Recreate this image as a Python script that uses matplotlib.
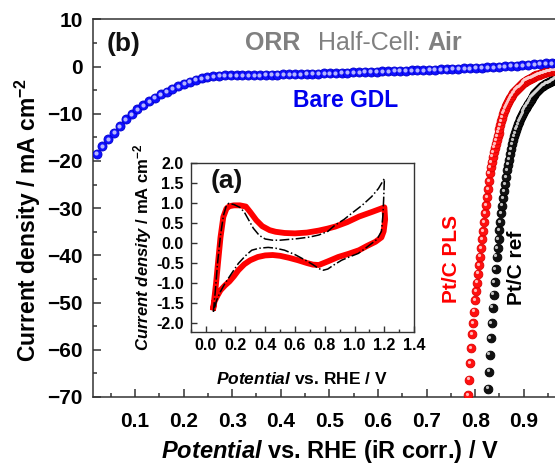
import numpy as np
import matplotlib
matplotlib.use("Agg")
import matplotlib.pyplot as plt
from matplotlib import transforms
from matplotlib.ticker import MultipleLocator, FormatStrFormatter

# ---------------- data ----------------
blue_x = [0.021, 0.033, 0.045, 0.057, 0.069, 0.081, 0.093, 0.105, 0.117, 0.129,
          0.141, 0.153, 0.165, 0.177, 0.189, 0.201, 0.213, 0.225, 0.237, 0.249,
          0.261, 0.273, 0.285, 0.297, 0.309, 0.321, 0.333, 0.345, 0.357, 0.369,
          0.381, 0.393, 0.405, 0.417, 0.429, 0.441, 0.453, 0.465, 0.477, 0.489,
          0.501, 0.513, 0.525, 0.537, 0.549, 0.561, 0.573, 0.585, 0.597, 0.609,
          0.621, 0.633, 0.645, 0.657, 0.669, 0.681, 0.693, 0.705, 0.717, 0.729,
          0.741, 0.753, 0.765, 0.777, 0.789, 0.801, 0.813, 0.825, 0.837, 0.849,
          0.861, 0.873, 0.885, 0.897, 0.909, 0.921, 0.933, 0.945, 0.957, 0.969]
blue_y = [-18.5, -16.9, -15.4, -14.0, -12.6, -11.2, -10.1, -9.1, -8.2, -7.4,
          -6.6, -5.9, -5.3, -4.7, -4.2, -3.7, -3.2, -2.8, -2.5, -2.3,
          -2.1, -1.95, -1.85, -1.8, -1.8, -1.8, -1.8, -1.8, -1.8, -1.78,
          -1.75, -1.72, -1.69, -1.66, -1.63, -1.6, -1.57, -1.53, -1.5, -1.46,
          -1.42, -1.38, -1.34, -1.3, -1.25, -1.2, -1.16, -1.12, -1.08, -1.03,
          -0.98, -0.94, -0.9, -0.86, -0.82, -0.78, -0.74, -0.7, -0.65, -0.6,
          -0.56, -0.52, -0.47, -0.42, -0.37, -0.31, -0.25, -0.18, -0.11, -0.03,
          0.05, 0.13, 0.21, 0.29, 0.37, 0.46, 0.55, 0.64, 0.73, 0.82]

pls_x = [0.786, 0.788, 0.790, 0.792, 0.794, 0.796, 0.798, 0.800, 0.802, 0.804,
         0.806, 0.808, 0.810, 0.812, 0.814, 0.816, 0.818, 0.820, 0.822, 0.824,
         0.826, 0.828, 0.830, 0.832, 0.834, 0.836, 0.838, 0.840, 0.842, 0.844,
         0.846, 0.848, 0.850, 0.852, 0.854, 0.856, 0.858, 0.860, 0.862, 0.864,
         0.866, 0.868, 0.870, 0.872, 0.874, 0.876, 0.878, 0.880, 0.882, 0.884,
         0.886, 0.888, 0.890, 0.892, 0.894, 0.896, 0.898, 0.900, 0.902, 0.904,
         0.906, 0.908, 0.910, 0.912, 0.914, 0.916, 0.918, 0.920, 0.922, 0.924,
         0.926, 0.928, 0.930, 0.932, 0.934, 0.936, 0.938, 0.940, 0.942, 0.944,
         0.946, 0.948, 0.950, 0.952, 0.954, 0.956, 0.958, 0.960, 0.962, 0.964,
         0.966, 0.968, 0.970]
pls_y = [-69.6, -66.3, -62.9, -59.6, -56.7, -54.3, -51.9, -49.5, -47.6, -45.8,
         -43.9, -42.1, -40.3, -38.5, -36.6, -34.8, -32.9, -31.1, -29.4, -27.7,
         -26.0, -24.3, -22.6, -21.3, -20.2, -19.1, -18.1, -17.2, -16.4, -15.6,
         -14.8, -14.0, -13.2, -12.4, -11.6, -10.8, -10.0, -9.4, -8.9, -8.4,
         -7.9, -7.5, -7.1, -6.7, -6.4, -6.0, -5.7, -5.4, -5.1, -4.9,
         -4.7, -4.5, -4.3, -4.1, -3.9, -3.7, -3.5, -3.3, -3.2, -3.0,
         -2.9, -2.8, -2.7, -2.6, -2.5, -2.4, -2.3, -2.2, -2.1, -2.0,
         -1.9, -1.8, -1.75, -1.7, -1.6, -1.5, -1.45, -1.4, -1.3, -1.25,
         -1.2, -1.1, -1.05, -1.0, -0.95, -0.9, -0.85, -0.8, -0.75, -0.7,
         -0.65, -0.6, -0.55]

ref_x = [0.826, 0.828, 0.830, 0.832, 0.834, 0.836, 0.838, 0.840, 0.842, 0.844,
         0.846, 0.848, 0.850, 0.852, 0.854, 0.856, 0.858, 0.860, 0.862, 0.864,
         0.866, 0.868, 0.870, 0.872, 0.874, 0.876, 0.878, 0.880, 0.882, 0.884,
         0.886, 0.888, 0.890, 0.892, 0.894, 0.896, 0.898, 0.900, 0.902, 0.904,
         0.906, 0.908, 0.910, 0.912, 0.914, 0.916, 0.918, 0.920, 0.922, 0.924,
         0.926, 0.928, 0.930, 0.932, 0.934, 0.936, 0.938, 0.940, 0.942, 0.944,
         0.946, 0.948, 0.950, 0.952, 0.954, 0.956, 0.958, 0.960, 0.962, 0.964,
         0.966, 0.968, 0.970]
ref_y = [-68.2, -64.6, -61.0, -57.6, -54.3, -51.1, -48.3, -45.6, -42.9, -40.3,
         -38.4, -36.5, -34.7, -32.9, -31.1, -29.5, -27.9, -26.4, -24.9, -23.4,
         -22.0, -20.8, -19.7, -18.6, -17.5, -16.5, -15.6, -14.8, -14.1, -13.4,
         -12.8, -12.2, -11.7, -11.2, -10.7, -10.3, -9.9, -9.5, -9.1, -8.7,
         -8.4, -8.0, -7.7, -7.3, -7.0, -6.6, -6.3, -6.0, -5.8, -5.6,
         -5.4, -5.2, -5.0, -4.8, -4.6, -4.4, -4.2, -4.05, -3.9, -3.75,
         -3.65, -3.55, -3.45, -3.35, -3.25, -3.15, -3.0, -2.85, -2.7, -2.55,
         -2.4, -2.3, -2.2]

# inset CV (a)
cv_pls_x = [0.052, 0.07, 0.085, 0.10, 0.119, 0.14, 0.16, 0.19, 0.23, 0.27,
            0.30, 0.34, 0.38, 0.43, 0.47, 0.53, 0.60, 0.68, 0.76, 0.82,
            0.87, 0.95, 1.03, 1.12, 1.20, 1.205, 1.195, 1.18, 1.14, 1.08,
            1.03, 0.96, 0.89, 0.82, 0.76, 0.72, 0.68, 0.62, 0.56, 0.50,
            0.45, 0.40, 0.35, 0.30, 0.26, 0.22, 0.19, 0.16, 0.13, 0.10,
            0.08, 0.06, 0.052]
cv_pls_y = [-1.60, -1.00, -0.42, 0.15, 0.66, 0.87, 0.93, 0.95, 0.95, 0.92,
            0.78, 0.58, 0.43, 0.33, 0.29, 0.26, 0.25, 0.27, 0.32, 0.37,
            0.42, 0.53, 0.67, 0.79, 0.90, 0.60, 0.30, 0.15, 0.04, -0.07,
            -0.17, -0.26, -0.34, -0.45, -0.54, -0.53, -0.49, -0.42, -0.36, -0.31,
            -0.29, -0.30, -0.34, -0.42, -0.52, -0.67, -0.82, -0.95, -1.05, -1.17,
            -1.30, -1.45, -1.60]
cv_ref_x = [0.052, 0.065, 0.08, 0.10, 0.12, 0.14, 0.155, 0.19, 0.23, 0.26,
            0.29, 0.32, 0.36, 0.40, 0.45, 0.50, 0.56, 0.62, 0.70, 0.76,
            0.82, 0.87, 0.93, 0.98, 1.05, 1.115, 1.16, 1.20, 1.195, 1.19,
            1.18, 1.15, 1.115, 1.07, 1.025, 0.97, 0.913, 0.86, 0.82, 0.79,
            0.76, 0.72, 0.67, 0.60, 0.53, 0.47, 0.42, 0.36, 0.31, 0.27,
            0.22, 0.18, 0.13, 0.10, 0.074, 0.052]
cv_ref_y = [-1.71, -1.20, -0.50, 0.20, 0.70, 0.95, 1.00, 0.97, 0.90, 0.78,
            0.58, 0.38, 0.20, 0.11, 0.08, 0.08, 0.10, 0.12, 0.16, 0.21,
            0.30, 0.46, 0.60, 0.75, 0.95, 1.17, 1.37, 1.62, 1.10, 0.70,
            0.30, 0.10, 0.00, -0.13, -0.25, -0.33, -0.42, -0.54, -0.64, -0.67,
            -0.63, -0.53, -0.42, -0.28, -0.17, -0.12, -0.10, -0.12, -0.17, -0.30,
            -0.50, -0.72, -1.00, -1.20, -1.42, -1.71]

main_xticks = [0.1, 0.2, 0.3, 0.4, 0.5, 0.6, 0.7, 0.8, 0.9]
main_yticks = [10, 0, -10, -20, -30, -40, -50, -60, -70]
inset_xticks = [0.0, 0.2, 0.4, 0.6, 0.8, 1.0, 1.2, 1.4]
inset_yticks = [-2.0, -1.5, -1.0, -0.5, 0.0, 0.5, 1.0, 1.5, 2.0]

# ---------------- style ----------------
plt.rcParams['font.family'] = ['Liberation Sans', 'DejaVu Sans']
plt.rcParams['font.weight'] = 'bold'
plt.rcParams['axes.labelweight'] = 'bold'
plt.rcParams['mathtext.fontset'] = 'custom'
plt.rcParams['mathtext.rm'] = 'Liberation Sans:bold'
plt.rcParams['mathtext.bf'] = 'Liberation Sans:bold'
plt.rcParams['mathtext.it'] = 'Liberation Sans:italic:bold'
plt.rcParams['mathtext.sf'] = 'Liberation Sans:bold'

SPINE = '#333333'
W, H = 555, 466
fig = plt.figure(figsize=(W / 100, H / 100), dpi=100)

ax = fig.add_axes([92.7 / W, 1 - 397 / H, 479.7 / W, 377.7 / H])
ax.set_xlim(0.013, 1.0)
ax.set_ylim(-70, 10)


def spheres(axis, xs, ys, base, edge, hi, ms, hi_ms, z, alpha_hi=0.9, dx=-1.3, dy=1.3):
    axis.plot(xs, ys, ls='none', marker='o', ms=ms, mfc=base, mec=edge, mew=0.6, zorder=z)
    tr = transforms.offset_copy(axis.transData, fig=fig, x=dx, y=dy, units='dots')
    axis.plot(xs, ys, ls='none', marker='o', ms=hi_ms, mfc=hi, mec='none',
              alpha=alpha_hi, transform=tr, zorder=z + 0.1)


spheres(ax, ref_x, ref_y, '#111111', '#000000', '#d8d8d8', 6.3, 2.3, 3)
spheres(ax, pls_x, pls_y, '#ff1010', '#dd0000', '#ffd0d0', 6.3, 2.3, 4)
spheres(ax, blue_x, blue_y, '#1010ff', '#0000cc', '#c8c8ff', 6.5, 3.0, 5, dx=-0.5, dy=0.5)

ax.xaxis.set_major_locator(plt.FixedLocator(main_xticks))
ax.xaxis.set_minor_locator(MultipleLocator(0.05))
ax.yaxis.set_major_locator(plt.FixedLocator(main_yticks))
ax.yaxis.set_minor_locator(MultipleLocator(5))
ax.xaxis.set_major_formatter(FormatStrFormatter('%.1f'))
ax.tick_params(which='both', direction='in', top=False, right=False, color=SPINE,
               labelsize=15, width=1.1)
ax.tick_params(which='major', length=5.8)
ax.tick_params(which='minor', length=3)
ax.tick_params(axis='x', pad=10.5)
ax.tick_params(axis='y', pad=7)
for lbl in ax.get_xticklabels() + ax.get_yticklabels():
    lbl.set_fontweight('bold')
for s in ax.spines.values():
    s.set_color(SPINE)
    s.set_linewidth(1.1)

ax.set_ylabel(r'Current density / mA cm$^{-2}$', fontsize=16.5, fontweight='bold')
ax.yaxis.set_label_coords(-(92.7 - 43) / 479.7, 0.47)
ax.set_xlabel(r'$\it{Potential}$ vs. RHE (iR corr.) / V', fontsize=17, fontweight='bold')
ax.xaxis.set_label_coords((330 - 92.7) / 479.7, -(438 - 397) / 377.7)

# annotations
ax.text(0.077, 4.8, '(b)', fontsize=19, fontweight='bold', ha='center', va='center', color='#111111')
GREY = '#808080'
fig.text(245 / W, 1 - 43 / H, 'ORR', fontsize=18, fontweight='bold', color=GREY, va='center', ha='left')
fig.text(318 / W, 1 - 43 / H, 'Half-Cell:', fontsize=18, fontweight='normal', color=GREY, va='center', ha='left')
fig.text(427 / W, 1 - 43 / H, 'Air', fontsize=18, fontweight='bold', color=GREY, va='center', ha='left')
ax.text(0.533, -7.1, 'Bare GDL', fontsize=16.5, fontweight='bold', color='#0000ee', ha='center', va='center')
ax.text(0.752, -40.8, 'Pt/C PLS', fontsize=15, fontweight='bold', color='#ff0000', rotation=90,
        ha='center', va='center')
ax.text(0.884, -42.7, 'Pt/C ref', fontsize=15, fontweight='bold', color='#000000', rotation=90,
        ha='center', va='center')

# ---------------- inset ----------------
axi = fig.add_axes([190.7 / W, 1 - 331.5 / H, 223.5 / W, 168.2 / H])
axi.set_xlim(-0.1, 1.4)
axi.set_ylim(-2.2, 2.0)
axi.plot(cv_pls_x, cv_pls_y, color='#ff0000', lw=4.2, solid_joinstyle='round', zorder=2)
axi.plot(cv_ref_x, cv_ref_y, color='#000000', lw=1.1, ls='-.', zorder=3)
axi.xaxis.set_major_locator(plt.FixedLocator(inset_xticks))
axi.xaxis.set_minor_locator(MultipleLocator(0.1))
axi.yaxis.set_major_locator(plt.FixedLocator(inset_yticks))
axi.xaxis.set_major_formatter(FormatStrFormatter('%.1f'))
axi.yaxis.set_major_formatter(FormatStrFormatter('%.1f'))
axi.tick_params(which='both', direction='in', top=False, right=False, color=SPINE,
                labelsize=11.5, width=1.0, pad=5)
axi.tick_params(which='major', length=4.5)
axi.tick_params(which='minor', length=2.5)
for lbl in axi.get_xticklabels() + axi.get_yticklabels():
    lbl.set_fontweight('bold')
for s in axi.spines.values():
    s.set_color(SPINE)
    s.set_linewidth(1.0)
axi.set_xlabel(r'$\it{Potential}$ vs. RHE / V', fontsize=12.5, fontweight='bold')
axi.xaxis.set_label_coords((302 - 190.7) / 223.5, -(371 - 331.5) / 168.2)
axi.set_ylabel(r'$\it{Current\ density}$ / mA cm$^{-2}$', fontsize=12, fontweight='bold')
axi.yaxis.set_label_coords(-(190.7 - 154) / 223.5, 0.5)
axi.text(0.145, 1.55, '(a)', fontsize=19, fontweight='bold', ha='center', va='center', color='#111111')

fig.savefig('out.png', dpi=100)
